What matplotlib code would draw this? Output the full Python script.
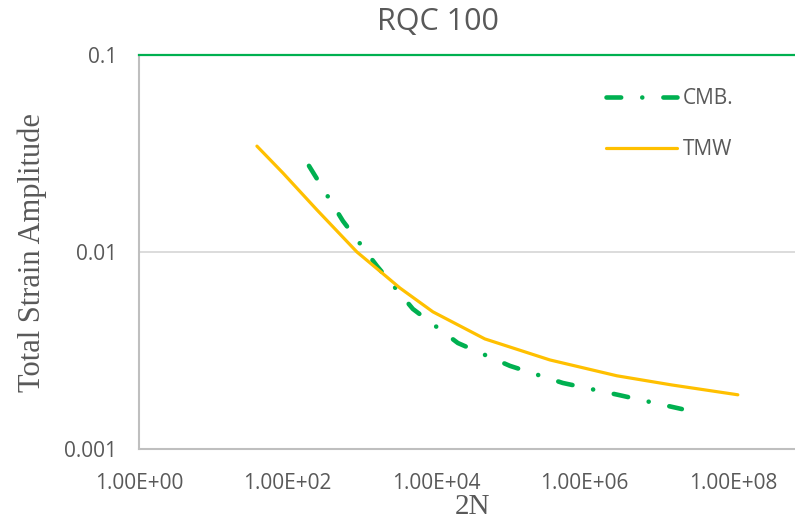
import matplotlib
matplotlib.use("Agg")
import matplotlib.pyplot as plt
from matplotlib.ticker import FixedLocator, NullLocator

plt.rcParams['font.family'] = ['Open Sans', 'DejaVu Sans']

# ── DATA ──────────────────────────────────────────────
cmb_2n = [195, 559, 1604, 4900, 19770, 99300, 513000, 2.83e6, 2.06e7]
cmb_strain = [0.0274, 0.01439, 0.00851, 0.00515, 0.00346, 0.00265, 0.00217, 0.00189, 0.00160]

tmw_2n = [38.8, 87, 250, 863, 1700, 3275, 9120, 45700, 343000, 2.74e6, 1.51e7, 1.17e8]
tmw_strain = [0.0345, 0.0252, 0.01637, 0.01002, 0.0081, 0.00658, 0.00498, 0.00363, 0.00284, 0.00236, 0.00212, 0.00189]

x_ticks = [1e0, 1e2, 1e4, 1e6, 1e8]
x_labels = ['1.00E+00', '1.00E+02', '1.00E+04', '1.00E+06', '1.00E+08']
y_ticks = [0.001, 0.01, 0.1]
y_labels = ['0.001', '0.01', '0.1']

GREEN = '#00B050'
ORANGE = '#FFC000'
GREY_TXT = '#595959'

# ── FIGURE ────────────────────────────────────────────
W, H = 795, 526
fig = plt.figure(figsize=(W / 100, H / 100), dpi=100)
# plot area runs past the right edge, as in the cropped reference
ax = fig.add_axes([139 / W, 1 - 449.3 / H, 668 / W, (449.3 - 55) / H])

ax.set_xscale('log')
ax.set_yscale('log')
ax.set_xlim(1, 1e9)
ax.set_ylim(0.001, 0.1)

ax.plot(cmb_2n, cmb_strain, color=GREEN, lw=3.3, label='CMB.',
        dashes=(3.2, 4.6, 0.01, 4.6), dash_capstyle='round')
ax.plot(tmw_2n, tmw_strain, color=ORANGE, lw=2.3, label='TMW',
        solid_capstyle='round')

ax.xaxis.set_major_locator(FixedLocator(x_ticks))
ax.set_xticklabels(x_labels)
ax.yaxis.set_major_locator(FixedLocator(y_ticks))
ax.set_yticklabels(y_labels)
ax.xaxis.set_minor_locator(NullLocator())
ax.yaxis.set_minor_locator(NullLocator())
ax.tick_params(axis='both', length=0, labelsize=15, labelcolor=GREY_TXT)
ax.tick_params(axis='x', pad=17)
ax.tick_params(axis='y', pad=16)

ax.yaxis.grid(True, color='#D9D9D9', lw=1.3)
ax.set_axisbelow(True)

for s in ('left', 'bottom'):
    ax.spines[s].set_color('#BFBFBF')
    ax.spines[s].set_linewidth(1.5)
ax.spines['top'].set_color(GREEN)
ax.spines['top'].set_linewidth(1.6)
ax.spines['right'].set_visible(False)

ax.set_xlabel('2N', family='Liberation Serif', fontsize=21, color=GREY_TXT, labelpad=0)
ax.set_ylabel('Total Strain Amplitude', family='Liberation Serif', fontsize=22,
              color=GREY_TXT, labelpad=12)

fig.text(438 / W, 1 - 22 / H, 'RQC 100', ha='center', va='center',
         fontsize=22, color=GREY_TXT)

ax.legend(loc='upper left', bbox_to_anchor=(606 / W, 1 - 88 / H),
          bbox_transform=fig.transFigure, frameon=False, fontsize=15,
          handlelength=3.4, handletextpad=0.3, labelspacing=1.45,
          borderpad=0, borderaxespad=0, labelcolor=GREY_TXT)

fig.savefig('out.png', dpi=100)
